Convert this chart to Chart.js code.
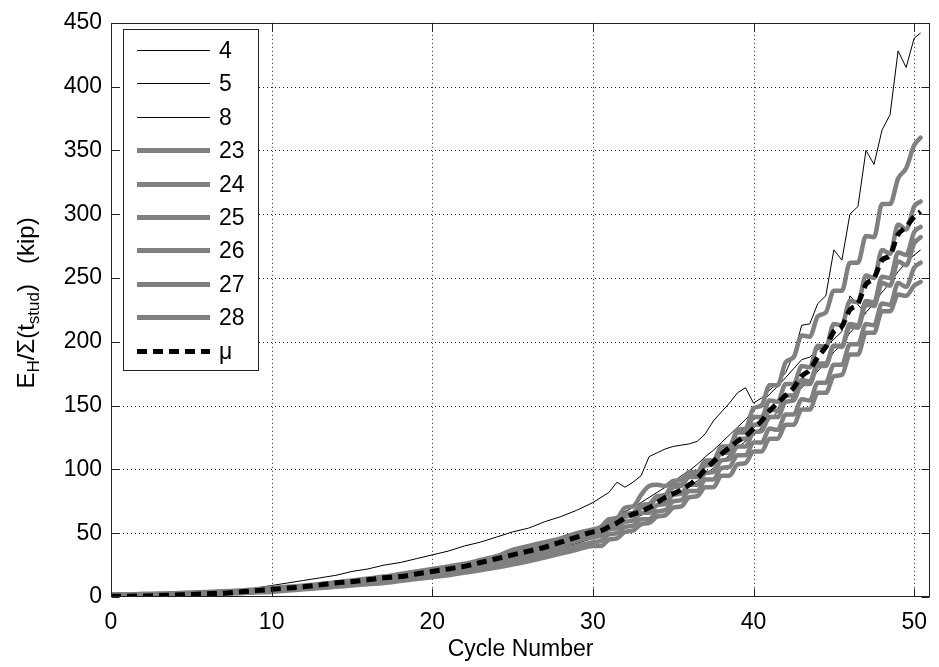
<!DOCTYPE html>
<html>
<head>
<meta charset="utf-8">
<script src="https://cdn.jsdelivr.net/npm/chart.js@4.4.1/dist/chart.umd.min.js"></script>
<style>
  html, body { margin: 0; padding: 0; background: #fff; }
  #wrap { width: 939px; height: 667px; }
</style>
</head>
<body>
<div id="wrap"><canvas id="hystChart" width="939" height="667"></canvas></div>
<script>
// cycle numbers: whole cycles up to 30, then half cycles
const cycles = [0,1,2,3,4,5,6,7,8,9,10,11,12,13,14,15,16,17,18,19,20,21,22,23,24,25,26,27,28,29,30,
  30.5,31,31.5,32,32.5,33,33.5,34,34.5,35,35.5,36,36.5,37,37.5,38,38.5,39,39.5,40,
  40.5,41,41.5,42,42.5,43,43.5,44,44.5,45,45.5,46,46.5,47,47.5,48,48.5,49,49.5,50,50.4];

const seriesLabels = ['4', '5', '8', '23', '24', '25', '26', '27', '28', '\u03bc'];

const s4 = [0.5,0.8,1,1.5,2,2.5,3,4,5,7, 9,11,13,15,17,20,22,25,27,30, 33,36,40,43,47,51,54,59,63,68, 74,
  78,82,90,86,90,95,110,113,116,118, 119,120,122,128,138,145,152,160,164,152,
  156,162,168,176,190,213,214,230,236,272, 264,300,306,350,339,366,378,428,415,438, 442];
const s5 = [1,1,1.5,2,2.5,3,3.5,4,5,6, 7,8,9.5,11,12,13.5,15,16.5,18,20, 22,24,26.5,29,32,35,38,41,45,49, 53,
  56,60,63,67,70,74,78,82,86,90, 95,99,104,110,115,121,127,133,139,146,
  152,159,165,172,179,186,188,194,196,202, 208,236,229,222,null,null,null,null,null,null, null];
const s8 = [0.5,1,1,1.5,2,2,2.5,3,3.5,4.5, 5.5,6.5,7.5,8.5,9.5,11,12,13.5,15,16.5, 18,20,22,24,27,30,33,36,39,42, 46,
  49,52,55,58,61,64,67,71,75,79, 83,87,91,96,101,106,111,117,122,127,
  133,139,145,151,157,164,170,177,184,192, 198,207,214,223,230,239,246,255,262,268, 272];
const s23 = [2,2,2.5,2.5,3,3.5,4,4.5,5,6, 7,8,9,10,11.5,13,14.5,16,18,20, 22,24,26,29,32,37,40,43,46,50, 53,
  55,61,62,70,71,80,87,88,87,91, 92,98,98,106,106,114,116,131,132,148,
  150,166,166,184,188,205,204,220,223,240, 240,262,262,283,282,308,308,328,336,354, 360];
const s24 = [1.5,1.5,1.5,2,2.5,3,3.5,4,4.5,5.5, 6.5,7.5,8.5,10,11,12.5,14,15.5,17,19, 21,23,25.5,28,31,34,37,40,44,48, 52,
  53,58,60,65,66,72,73,79,80,88, 88,97,97,107,107,118,118,129,129,141,
  141,154,153,167,167,181,180,197,196,214, 213,232,231,252,250,272,269,292,288,306, 310];
const s25 = [1.5,1.5,1.5,2,2,2.5,3,3.5,4,5, 6,7,8,9,10,11.5,13,14,15.5,17, 19,21,23,25.5,28,31,34,37,40,44, 47,
  48,53,54,59,60,66,66,72,73,80, 81,88,88,97,98,107,108,118,118,129,
  130,141,141,153,154,167,167,181,181,197, 197,214,213,232,231,251,250,270,268,286, 290];
const s26 = [1,1,1.5,1.5,2,2,2.5,3,3.5,4, 5,6,7,8,9,10,11,12.5,14,15.5, 17,19,21,23,25.5,28,31,34,37,40, 43,
  44,49,50,55,56,61,61,67,68,75, 76,83,83,92,92,101,102,111,111,121,
  121,132,131,143,143,155,154,168,168,182, 182,198,198,214,213,230,229,246,243,258, 262];
const s27 = [0.5,0.5,1,1,1.5,1.5,2,2.5,3,3.5, 4,5,6,7,8,9,10,11,12.5,14, 15.5,17,19,21,23,25.5,28,31,34,37, 40,
  40,45,46,51,52,57,58,63,64,70, 71,78,79,86,86,95,95,104,105,114,
  114,124,124,135,135,147,147,160,160,173, 174,190,190,207,207,224,224,237,236,244, 247];
const s28 = [2,2,2,2.5,3,3,3.5,4,4.5,5, 6,7,8,9,10.5,12,13,14.5,16,18, 20,22,24,26.5,29,32,35,38,42,45, 49,
  50,56,57,63,64,70,71,78,79,86, 87,94,94,103,104,113,113,124,124,135,
  135,147,146,158,158,170,169,183,183,197, 196,212,211,229,228,246,244,263,260,277, 282];
const mu = [0.5,0.6,0.8,1.2,1.6,2,2.5,3,4,5, 6,7,8,9.5,11,12,13.5,15,16,18, 20,22,24,27,30,33,36,39,43,47, 51,
  52,55,58,62,65,67,70,74,78,81, 84,88,93,100,106,112,117,122,126,132,
  138,146,152,158,164,173,178,188,196,208, 212,225,230,245,250,264,268,284,290,298, 302];

const xTicks = [0, 10, 20, 30, 40, 50];
const yTicks = [0, 50, 100, 150, 200, 250, 300, 350, 400, 450];

const FONT = 'Liberation Sans, Arial, Helvetica, sans-serif';
const GREY = '#808080';

const toPoints = vals => cycles.map((c, i) => ({ x: c, y: vals[i] }));

const thin = (label, vals) => ({
  label, data: toPoints(vals), borderColor: '#000', borderWidth: 1, order: 2
});
const thick = (label, vals) => ({
  label, data: toPoints(vals), borderColor: GREY, borderWidth: 4.5, order: 1,
  cubicInterpolationMode: 'monotone', borderJoinStyle: 'round', borderCapStyle: 'round'
});

const datasets = [
  thin(seriesLabels[0], s4),
  thin(seriesLabels[1], s5),
  thin(seriesLabels[2], s8),
  thick(seriesLabels[3], s23),
  thick(seriesLabels[4], s24),
  thick(seriesLabels[5], s25),
  thick(seriesLabels[6], s26),
  thick(seriesLabels[7], s27),
  thick(seriesLabels[8], s28),
  { label: seriesLabels[9], data: toPoints(mu), borderColor: '#000', borderWidth: 5,
    borderDash: [10, 6], cubicInterpolationMode: 'monotone', order: 0 }
];

// matlab style frame, dotted grid, inward ticks, legend and y label
const matlabFrame = {
  id: 'matlabFrame',
  beforeDatasetsDraw(chart) {
    const { ctx, chartArea: a, scales: { x, y } } = chart;
    ctx.save();
    ctx.strokeStyle = '#222';
    ctx.lineWidth = 1;
    ctx.setLineDash([1, 3]);
    xTicks.forEach(v => {
      const px = Math.round(x.getPixelForValue(v)) + 0.5;
      if (px <= a.left + 1 || px >= a.right - 1) return;
      ctx.beginPath(); ctx.moveTo(px, a.top); ctx.lineTo(px, a.bottom); ctx.stroke();
    });
    yTicks.forEach(v => {
      const py = Math.round(y.getPixelForValue(v)) + 0.5;
      if (py <= a.top + 1 || py >= a.bottom - 1) return;
      ctx.beginPath(); ctx.moveTo(a.left, py); ctx.lineTo(a.right, py); ctx.stroke();
    });
    ctx.restore();
  },
  afterDatasetsDraw(chart) {
    const { ctx, chartArea: a, scales: { x, y } } = chart;
    ctx.save();
    ctx.strokeStyle = '#222';
    ctx.lineWidth = 1;
    ctx.setLineDash([]);
    const L = Math.round(a.left) + 0.5, R = Math.round(a.right) - 0.5;
    const T = Math.round(a.top) + 0.5, B = Math.round(a.bottom) - 0.5;
    ctx.strokeRect(L, T, R - L, B - T);
    const tl = 8;
    ctx.beginPath();
    xTicks.forEach(v => {
      const px = Math.round(x.getPixelForValue(v)) + 0.5;
      ctx.moveTo(px, B); ctx.lineTo(px, B - tl);
      ctx.moveTo(px, T); ctx.lineTo(px, T + tl);
    });
    yTicks.forEach(v => {
      const py = Math.round(y.getPixelForValue(v)) + 0.5;
      ctx.moveTo(L, py); ctx.lineTo(L + tl, py);
      ctx.moveTo(R, py); ctx.lineTo(R - tl, py);
    });
    ctx.stroke();

    // legend box
    const lx = 123.5, ly = 29.5, lw = 135, lh = 341;
    ctx.fillStyle = '#fff';
    ctx.fillRect(lx, ly, lw, lh);
    ctx.strokeRect(lx, ly, lw, lh);
    ctx.font = '23px ' + FONT;
    ctx.textBaseline = 'middle';
    ctx.textAlign = 'left';
    chart.data.datasets.forEach((ds, i) => {
      const ry = Math.round(50 + i * 33.4) + 0.5;
      ctx.save();
      ctx.strokeStyle = ds.borderColor;
      ctx.lineWidth = Math.round(ds.borderWidth);
      ctx.setLineDash(ds.borderDash || []);
      ctx.beginPath(); ctx.moveTo(137, ry); ctx.lineTo(210, ry); ctx.stroke();
      ctx.restore();
      ctx.fillStyle = '#000';
      ctx.fillText(ds.label, 219, ry + 1);
    });

    // y axis title with subscripts
    const big = '24px ' + FONT, small = '17px ' + FONT;
    const parts = [
      ['E', big, 0], ['H', small, 5], ['/\u03a3(t', big, 0], ['stud', small, 5], [')   (kip)', big, 0]
    ];
    let total = 0;
    parts.forEach(p => { ctx.font = p[1]; total += ctx.measureText(p[0]).width; });
    ctx.translate(34, 303);
    ctx.rotate(-Math.PI / 2);
    ctx.textBaseline = 'alphabetic';
    ctx.fillStyle = '#000';
    let cx = -total / 2;
    parts.forEach(p => {
      ctx.font = p[1];
      ctx.fillText(p[0], cx, p[2]);
      cx += ctx.measureText(p[0]).width;
    });
    ctx.restore();
  }
};

new Chart(document.getElementById('hystChart'), {
  type: 'line',
  data: { datasets },
  options: {
    responsive: false,
    animation: false,
    devicePixelRatio: 1,
    elements: { point: { radius: 0 }, line: { tension: 0, borderCapStyle: 'butt', borderJoinStyle: 'miter' } },
    layout: { padding: { top: 16, right: 2, left: 0, bottom: 0 } },
    plugins: { legend: { display: false }, tooltip: { enabled: false } },
    scales: {
      x: {
        type: 'linear', min: 0, max: 51,
        grid: { display: false, drawTicks: false },
        border: { display: false },
        afterBuildTicks: s => { s.ticks = xTicks.map(v => ({ value: v })); },
        afterFit: s => { s.height = 70; },
        ticks: { color: '#000', font: { family: FONT, size: 23 }, padding: 12, maxRotation: 0 },
        title: { display: true, text: 'Cycle Number', color: '#000', font: { family: FONT, size: 23 }, padding: { top: 0, bottom: 4 } }
      },
      y: {
        type: 'linear', min: 0, max: 450,
        grid: { display: false, drawTicks: false },
        border: { display: false },
        afterBuildTicks: s => { s.ticks = yTicks.map(v => ({ value: v })); },
        afterFit: s => { s.width = 111; },
        ticks: { color: '#000', font: { family: FONT, size: 23 }, padding: 9 }
      }
    }
  },
  plugins: [matlabFrame]
});
</script>
</body>
</html>
